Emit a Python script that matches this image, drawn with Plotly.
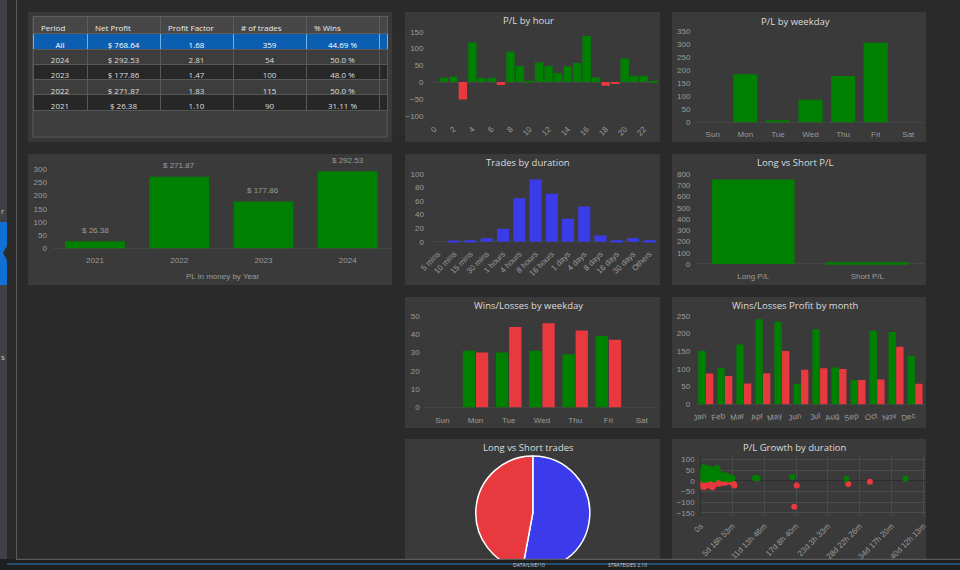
import plotly.graph_objects as go

W, H = 960, 570
BG = '#2a2a2a'
PANEL = '#3a3a3a'
GREEN = '#008000'
RED = '#e8393f'
BLUE = '#3b3bec'
TICK = '#9a9a9a'
TITLE = '#dcdcdc'
TFONT = 'Liberation Sans, Arial, sans-serif'
HFONT = 'Open Sans, sans-serif'

# ---------------- data ----------------
table_headers = ['Period', 'Net Profit', 'Profit Factor', '# of trades', '% Wins', '']
table_periods = ['All', '2024', '2023', '2022', '2021']
table_net = ['$ 768.64', '$ 292.53', '$ 177.86', '$ 271.87', '$ 26.38']
table_pf = ['1.68', '2.81', '1.47', '1.83', '1.10']
table_trades = ['359', '54', '100', '115', '90']
table_wins = ['44.69 %', '50.0 %', '48.0 %', '50.0 %', '31.11 %']

years = ['2021', '2022', '2023', '2024']
year_pl = [26.38, 271.87, 177.86, 292.53]

hours = list(range(24))
hour_pl = [0, 13, 16, -52, 118, 12, 13, -9, 90, 48, 3, 58, 48, 27, 47, 57, 137, 14, -11, -6, 70, 19, 19, 2]

weekdays = ['Sun', 'Mon', 'Tue', 'Wed', 'Thu', 'Fri', 'Sat']
weekday_pl = [0, 184, 8, 86, 177, 304, 0]

durations = ['5 mins', '10 mins', '15 mins', '30 mins', '1 hours', '4 hours', '8 hours',
             '16 hours', '1 days', '4 days', '8 days', '16 days', '30 days', 'Others']
duration_trades = [0, 1, 2, 5, 19, 64, 92, 71, 34, 52, 9, 2, 5, 2]

ls_labels = ['Long P/L', 'Short P/L']
ls_pl = [752, 16]

weekday_wins = [0, 31, 30, 31, 29, 39, 0]
weekday_losses = [0, 30, 44, 46, 42, 37, 0]

months = ['Jan', 'Feb', 'Mar', 'Apr', 'May', 'Jun', 'Jul', 'Aug', 'Sep', 'Oct', 'Nov', 'Dec']
month_win_profit = [151, 102, 169, 241, 234, 58, 212, 104, 69, 208, 205, 137]
month_loss_profit = [87, 80, 59, 88, 151, 98, 102, 100, 69, 70, 163, 58]

trade_sides = ['Long', 'Short']
trade_side_counts = [190, 169]

growth_tick_labels = ['0s', '5d 18h 53m', '11d 13h 46m', '17d 8h 40m', '23d 3h 33m',
                      '28d 22h 26m', '34d 17h 20m', '40d 12h 13m']
growth_tick_seconds = [0, 500000, 1000000, 1500000, 2000000, 2500000, 3000000, 3500000]

win_duration = [8000, 15000, 22000, 30000, 38000, 45000, 52000, 60000, 68000, 75000, 82000, 90000,
                98000, 105000, 112000, 120000, 128000, 135000, 142000, 150000, 160000, 170000,
                180000, 190000, 200000, 210000, 220000, 232000, 245000, 258000, 270000, 282000,
                295000, 310000, 325000, 340000, 355000, 370000, 385000, 400000, 420000, 440000,
                460000, 480000, 500000, 25000, 35000, 55000, 65000, 85000, 115000, 140000,
                165000, 195000, 225000, 250000, 20000, 10000, 42000, 72000, 118000,
                853000, 880000, 895000, 1440000, 2290000, 3220000]
win_pl = [12, 25, 38, 48, 58, 64, 55, 42, 30, 20, 35, 46,
          28, 15, 8, 22, 33, 18, 10, 26, 14, 40,
          52, 30, 12, 6, 20, 34, 56, 60, 45, 24,
          16, 30, 12, 22, 8, 18, 14, 26, 10, 6,
          16, 8, 12, 5, 15, 8, 18, 4, 40, 48,
          28, 44, 10, 28, 45, 30, 32, 52, 58,
          11, 13, 10, 17, 8, 9]

loss_duration = [5000, 15000, 25000, 35000, 45000, 55000, 65000, 75000, 85000, 95000, 110000,
                 125000, 140000, 150000, 165000, 180000, 188000, 200000, 215000, 230000, 250000,
                 270000, 290000, 310000, 330000, 350000, 380000, 410000, 450000, 490000, 520000,
                 530000, 20000, 60000, 1470000, 1510000, 2320000, 2660000]
loss_pl = [-5, -12, -18, -22, -25, -20, -15, -24, -10, -18, -8,
           -14, -22, -6, -12, -28, -31, -20, -9, -16, -12,
           -5, -14, -8, -11, -4, -9, -6, -3, -10, -16,
           -22, -28, -30, -122, -23, -16, -5]


# ---------------- helpers (pixel layout -> paper) ----------------
def xd(a, b):
    return [a / W, b / W]


def xcat(c_first, c_last, n):
    d = (c_last - c_first) / (n - 1)
    return [(c_first - d / 2) / W, (c_last + d / 2) / W]


def ydom(zero_px, ppu, lo, hi):
    return [1 - (zero_px - lo * ppu) / H, 1 - (zero_px - hi * ppu) / H]


tickfont = dict(family=TFONT, size=8, color=TICK)


def xaxis(dom, anchor, **kw):
    d = dict(domain=dom, anchor=anchor, showgrid=False, zeroline=False, showline=False,
             ticks='', tickfont=tickfont, fixedrange=True, ticklabelstandoff=3, automargin=False)
    d.update(kw)
    return d


def yaxis(dom, anchor, **kw):
    d = dict(domain=dom, anchor=anchor, showgrid=False, zeroline=True, zerolinecolor='#454545',
             zerolinewidth=1, showline=False, ticks='', tickfont=tickfont, fixedrange=True,
             ticklabelstandoff=5, automargin=False)
    d.update(kw)
    return d


def bar(**kw):
    return go.Bar(hoverinfo='skip', marker_line_width=0, **kw)


fig = go.Figure()

# Year bars
fig.add_trace(bar(x=years, y=year_pl, marker_color=GREEN, width=0.71, xaxis='x', yaxis='y'))
# P/L by hour
fig.add_trace(bar(x=hours, y=hour_pl, marker_color=[GREEN if v >= 0 else RED for v in hour_pl],
                  width=0.88, xaxis='x2', yaxis='y2'))
# P/L by weekday
fig.add_trace(bar(x=weekdays, y=weekday_pl, marker_color=GREEN, width=0.74, xaxis='x3', yaxis='y3'))
# Trades by duration
fig.add_trace(bar(x=durations, y=duration_trades, marker_color=BLUE, width=0.74, xaxis='x4', yaxis='y4'))
# Long vs Short P/L
fig.add_trace(bar(x=ls_labels, y=ls_pl, marker_color=GREEN, width=0.725, xaxis='x5', yaxis='y5'))
# Wins/Losses by weekday
fig.add_trace(bar(x=weekdays, y=weekday_wins, marker_color=GREEN, width=0.37, offset=-0.385,
                  xaxis='x6', yaxis='y6'))
fig.add_trace(bar(x=weekdays, y=weekday_losses, marker_color=RED, width=0.37, offset=0.012,
                  xaxis='x6', yaxis='y6'))
# Wins/Losses profit by month
fig.add_trace(bar(x=months, y=month_win_profit, marker_color=GREEN, width=0.385, offset=-0.39,
                  xaxis='x7', yaxis='y7'))
fig.add_trace(bar(x=months, y=month_loss_profit, marker_color=RED, width=0.385, offset=0.012,
                  xaxis='x7', yaxis='y7'))
# P/L growth by duration
fig.add_trace(go.Scatter(x=loss_duration, y=loss_pl, mode='markers',
                         marker=dict(color=RED, size=6, line=dict(width=0)), xaxis='x8', yaxis='y8',
                         hoverinfo='skip'))
fig.add_trace(go.Scatter(x=win_duration, y=win_pl, mode='markers',
                         marker=dict(color=GREEN, size=6, line=dict(width=0)), xaxis='x8', yaxis='y8',
                         hoverinfo='skip'))
# Long vs Short trades pie
fig.add_trace(go.Pie(labels=trade_sides, values=trade_side_counts, sort=False, direction='clockwise',
                     rotation=0, textinfo='none', hoverinfo='skip', automargin=False,
                     marker=dict(colors=[BLUE, RED], line=dict(color='#ffffff', width=1.5)),
                     domain=dict(x=xd(474.8, 590.8), y=[0, 1 - 456 / H])))

# Table
row_fill = ['#0b5eb0', '#3d3d3d', '#272727', '#3d3d3d', '#272727']
row_line = ['#6db3ee', '#575757', '#575757', '#575757', '#575757']
row_font = ['#ffffff', '#dedede', '#dedede', '#dedede', '#dedede']
fig.add_trace(go.Table(
    domain=dict(x=xd(33, 387), y=[1 - 137 / H, 1 - 16.7 / H]),
    columnwidth=[54, 73, 73, 73, 73, 8],
    header=dict(values=table_headers, fill_color='#474747', line=dict(color='#5e5e5e', width=1),
                align='left', height=17, font=dict(family=HFONT, size=8, color='#ececec')),
    cells=dict(values=[table_periods, table_net, table_pf, table_trades, table_wins, [''] * 5],
               fill_color=[row_fill] * 6, line=dict(color=[row_line] * 6, width=1),
               align='center', height=15.3, font=dict(family=HFONT, size=8, color=[row_font] * 6)),
))

layout = dict(
    template='none',
    width=W, height=H, margin=dict(l=0, r=0, t=0, b=0, pad=0, autoexpand=False), autosize=False,
    paper_bgcolor=BG, plot_bgcolor='rgba(0,0,0,0)',
    showlegend=False, barmode='overlay', hovermode=False,
    font=dict(family=HFONT, color=TITLE),
    # Year
    xaxis=xaxis(xcat(95, 347.7, 4), 'y', type='category', range=[-0.5, 3.5], ticklabelstandoff=5),
    yaxis=yaxis(ydom(248.3, 0.2633, -3, 318), 'x', range=[-3, 318], tickvals=[0, 50, 100, 150, 200, 250, 300]),
    # Hour
    xaxis2=xaxis(xcat(434.3, 653.3, 24), 'y2', type='linear', range=[-0.5, 23.5],
                 tickmode='array', tickvals=list(range(0, 24, 2)),
                 ticktext=[str(h) for h in range(0, 24, 2)], tickangle=-45),
    yaxis2=yaxis(ydom(82.1, 0.336, -110, 165), 'x2', range=[-110, 165],
                 tickvals=[-100, -50, 0, 50, 100, 150]),
    # Weekday
    xaxis3=xaxis(xcat(712.7, 908.3, 7), 'y3', type='category', range=[-0.5, 6.5], ticklabelstandoff=4),
    yaxis3=yaxis(ydom(122.3, 0.2617, -8, 370), 'x3', range=[-8, 370],
                 tickvals=[0, 50, 100, 150, 200, 250, 300, 350]),
    # Duration
    xaxis4=xaxis(xcat(438, 649.3, 14), 'y4', type='category', range=[-0.5, 13.5], tickangle=-45),
    yaxis4=yaxis(ydom(241.7, 0.677, -3, 108), 'x4', range=[-3, 108],
                 tickvals=[0, 20, 40, 60, 80, 100]),
    # Long vs Short P/L
    xaxis5=xaxis(xcat(753.3, 867.3, 2), 'y5', type='category', range=[-0.5, 1.5], ticklabelstandoff=4),
    yaxis5=yaxis(ydom(264, 0.1125, -15, 830), 'x5', range=[-15, 830],
                 tickvals=[0, 100, 200, 300, 400, 500, 600, 700, 800]),
    # Wins/Losses by weekday
    xaxis6=xaxis(xcat(442.3, 641.7, 7), 'y6', type='category', range=[-0.5, 6.5], ticklabelstandoff=4),
    yaxis6=yaxis(ydom(407.3, 1.826, -1.5, 53), 'x6', range=[-1.5, 53],
                 tickvals=[0, 10, 20, 30, 40, 50]),
    # Month
    xaxis7=xaxis(xcat(705.7, 915, 12), 'y7', type='category', range=[-0.5, 11.5], tickangle=-12),
    yaxis7=yaxis(ydom(404.3, 0.3532, -5, 265), 'x7', range=[-5, 265],
                 tickvals=[0, 50, 100, 150, 200, 250]),
    # Growth scatter
    xaxis8=xaxis(xd(700.7, 924.6), 'y8', range=[0, 3520000], tickmode='array',
                 tickvals=growth_tick_seconds, ticktext=growth_tick_labels, tickangle=-45,
                 showgrid=True, gridcolor='#4b4b4b', zeroline=True, zerolinecolor='#2e2e2e'),
    yaxis8=yaxis(ydom(480.7, 0.2136, -165, 115), 'x8', range=[-165, 115],
                 tickvals=[-150, -100, -50, 0, 50, 100], showgrid=True, gridcolor='#4b4b4b',
                 zerolinecolor='#2e2e2e'),
)


def rect(x0, y0, x1, y1, fill, line=None, layer='below', lw=1):
    return dict(type='rect', xref='paper', yref='paper', x0=x0 / W, x1=x1 / W,
                y0=1 - y1 / H, y1=1 - y0 / H, fillcolor=fill, layer=layer,
                line=dict(color=line or 'rgba(0,0,0,0)', width=lw if line else 0))


shapes = [
    # left sidebar
    rect(0, 0, 7, 560, '#3f4147'),
    rect(0, 222, 7, 285, '#1170d4'),
    dict(type='path', xref='paper', yref='paper', layer='below',
         path=f'M {7 / W} {1 - 246 / H} L {3 / W} {1 - 253 / H} L {7 / W} {1 - 260 / H} Z',
         fillcolor='#2a2a2a', line=dict(width=0)),
    dict(type='line', xref='paper', yref='paper', x0=16.5 / W, x1=16.5 / W, y0=1 - 559 / H, y1=1,
         line=dict(color='#5a5a5a', width=1), layer='below'),
    # panels
    rect(28, 12, 392, 142, '#383838'),
    rect(33, 16.7, 387, 137, '#3d3d3d', '#5a5a5a'),
    rect(28, 154, 392, 285, PANEL),
    rect(405, 12, 660, 142, PANEL),
    rect(672, 12, 926, 142, PANEL),
    rect(405, 154, 660, 285, PANEL),
    rect(672, 154, 926, 285, PANEL),
    rect(405, 297, 660, 428, PANEL),
    rect(672, 297, 926, 428, PANEL),
    rect(405, 439, 660, 570, PANEL),
    rect(672, 439, 926, 570, PANEL),
    # bottom status bar (above everything)
    rect(0, 559, 960, 570, '#1f1f1f', layer='above'),
    dict(type='line', xref='paper', yref='paper', x0=16 / W, x1=1, y0=1 - 559.3 / H, y1=1 - 559.3 / H,
         line=dict(color='#6a6a6a', width=1), layer='above'),
    dict(type='line', xref='paper', yref='paper', x0=7 / W, x1=1, y0=1 - 564 / H, y1=1 - 564 / H,
         line=dict(color='#2f7fc8', width=1.2), layer='above'),
]
layout['shapes'] = shapes


def title(text, xpx, ypx, size=9.5, color=TITLE, family=HFONT):
    return dict(text=text, xref='paper', yref='paper', x=xpx / W, y=1 - ypx / H, showarrow=False,
                xanchor='center', yanchor='middle', font=dict(family=family, size=size, color=color))


annotations = [
    title('P/L by hour', 528, 20),
    title('P/L by weekday', 795, 21),
    title('Trades by duration', 528, 162),
    title('Long vs Short P/L', 795, 162),
    title('Wins/Losses by weekday', 528, 305),
    title('Wins/Losses Profit by month', 795, 305),
    title('Long vs Short trades', 528, 447),
    title('P/L Growth by duration', 795, 447),
    title('PL in money by Year', 222, 276.7, size=8, color=TICK, family=TFONT),
]
for i, v in enumerate(year_pl):
    annotations.append(dict(text=f'$ {v:.2f}', x=i, y=v, xref='x', yref='y', showarrow=False,
                            yshift=11, yanchor='middle',
                            font=dict(family=TFONT, size=8, color=TICK)))
# sidebar fragments and status bar text (kept inside the page)
annotations += [
    dict(text='r', xref='paper', yref='paper', x=0, y=1 - 210 / H, xanchor='left', showarrow=False,
         borderpad=0, font=dict(family=HFONT, size=8, color='#c8c8c8')),
    dict(text='s', xref='paper', yref='paper', x=0, y=1 - 357 / H, xanchor='left', showarrow=False,
         borderpad=0, font=dict(family=HFONT, size=8, color='#c8c8c8')),
    dict(text='DATA/LIVE/10', xref='paper', yref='paper', x=512 / W, y=0.002, xanchor='left',
         yanchor='bottom', showarrow=False, borderpad=0,
         font=dict(family=HFONT, size=5, color='#cfcfcf')),
    dict(text='STRATEGIES 2.10', xref='paper', yref='paper', x=607 / W, y=0.002,
         xanchor='left', yanchor='bottom', showarrow=False, borderpad=0,
         font=dict(family=HFONT, size=5, color='#cfcfcf')),
]
layout['annotations'] = annotations

fig.update_layout(**layout)
fig.write_html("out.html", config={'displayModeBar': False},
               post_script="document.body.style.margin='0';document.body.style.overflow='hidden';")
